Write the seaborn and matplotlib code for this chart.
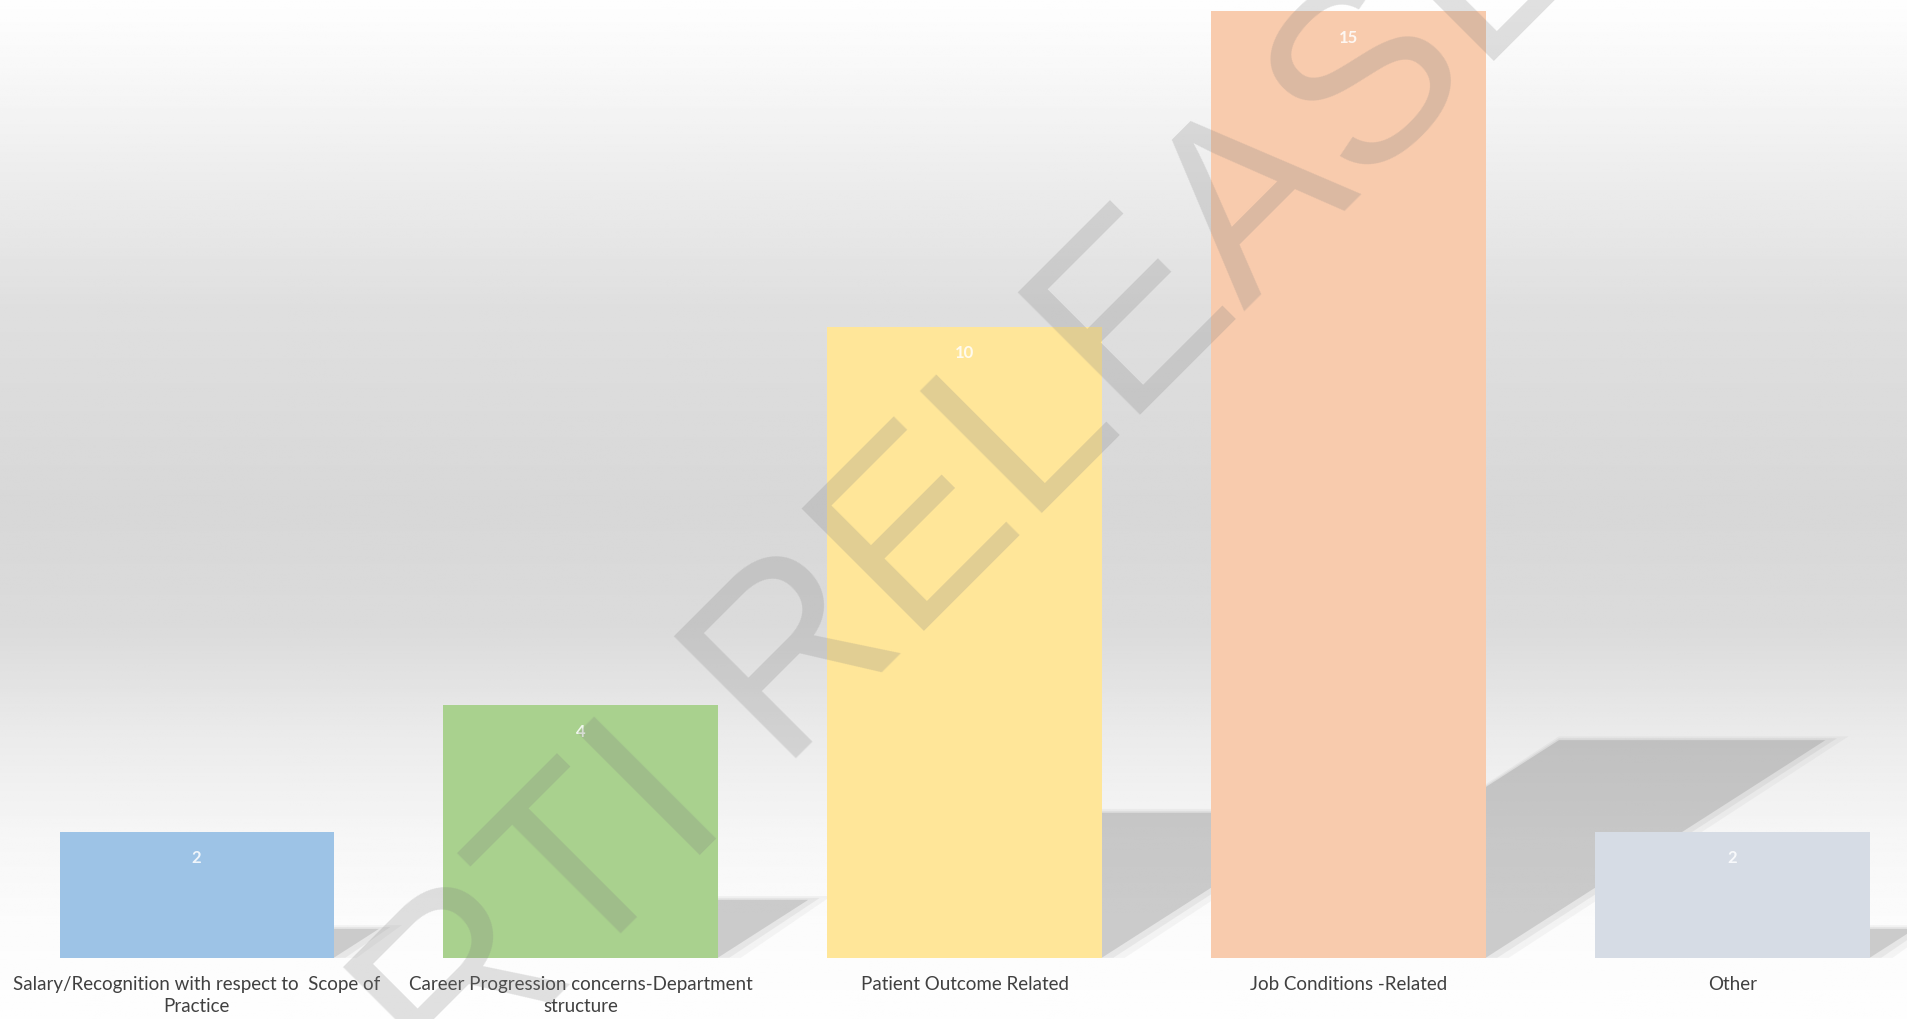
import numpy as np
import pandas as pd
import matplotlib
matplotlib.use("Agg")
import matplotlib.pyplot as plt
import seaborn as sns

categories = [
    "Salary/Recognition with respect to  Scope of\nPractice",
    "Career Progression concerns-Department\nstructure",
    "Patient Outcome Related",
    "Job Conditions -Related",
    "Other",
]
values = [2, 4, 10, 15, 2]
bar_colors = ["#9DC3E6", "#A9D18E", "#FFE699", "#F8CBAD", "#D6DCE5"]
watermark = "RTI RELEASE"

sns.set_theme(style="white")
plt.rcParams["font.family"] = ["Lato", "DejaVu Sans"]

fig = plt.figure(figsize=(19.08, 10.19), dpi=100)

# background gradient
bg = fig.add_axes([0, 0, 1, 1], zorder=-10)
stops = [(0.0, 0.995), (0.06, 0.975), (0.3, 0.875), (0.5, 0.845), (0.62, 0.86),
         (0.72, 0.92), (0.82, 0.965), (0.9, 0.985), (1.0, 0.995)]
ys = np.linspace(0, 1, 400)
vals = np.interp(ys, [s[0] for s in stops], [s[1] for s in stops])
grad = np.repeat(vals[:, None], 10, axis=1)
bg.imshow(grad, aspect="auto", cmap="gray", vmin=0, vmax=1, extent=[0, 1, 1, 0])
bg.set_axis_off()

ax = fig.add_axes([0, 0.06, 1, 0.94])
ax.set_facecolor("none")
df = pd.DataFrame({"cat": categories, "val": values})
width = 0.714

# soft shadows, derived from values
for i, v in enumerate(values):
    h = 0.23 * v
    dx = 0.059 * v
    x0, x1 = i - width / 2, i + width / 2
    for k, a in [(0.06, 0.05), (0.03, 0.08), (0.0, 0.18)]:
        xs = [x0 + 0.02, x1 + k, x1 + dx + k, x0 + dx + 0.02]
        yv = [0, 0, h + k, h + k]
        ax.fill(xs, yv, color="#555555", alpha=a, lw=0, zorder=1)

sns.barplot(data=df, x="cat", y="val", hue="cat", palette=bar_colors,
            width=width, legend=False, ax=ax, saturation=1, zorder=2,
            linewidth=0)

for i, v in enumerate(values):
    ax.text(i, v - 0.42, str(v), ha="center", va="center", color="white",
            fontsize=12, fontweight="bold", alpha=0.85, zorder=3)

ax.set_xlim(-0.512, 4.457)
ax.set_ylim(0, 15.18)
ax.set_xlabel("")
ax.set_ylabel("")
ax.set_yticks([])
ax.tick_params(axis="x", length=0, pad=13, labelsize=13.5, labelcolor="#404040")
for lbl in ax.get_xticklabels():
    lbl.set_linespacing(1.35)
for s in ax.spines.values():
    s.set_visible(False)

fig.text(0.513, 0.525, watermark, rotation=45, ha="center", va="center",
         fontsize=180, color="#808080", alpha=0.24,
         family=["Liberation Sans", "DejaVu Sans"], zorder=20)

fig.savefig("out.png", dpi=100)
